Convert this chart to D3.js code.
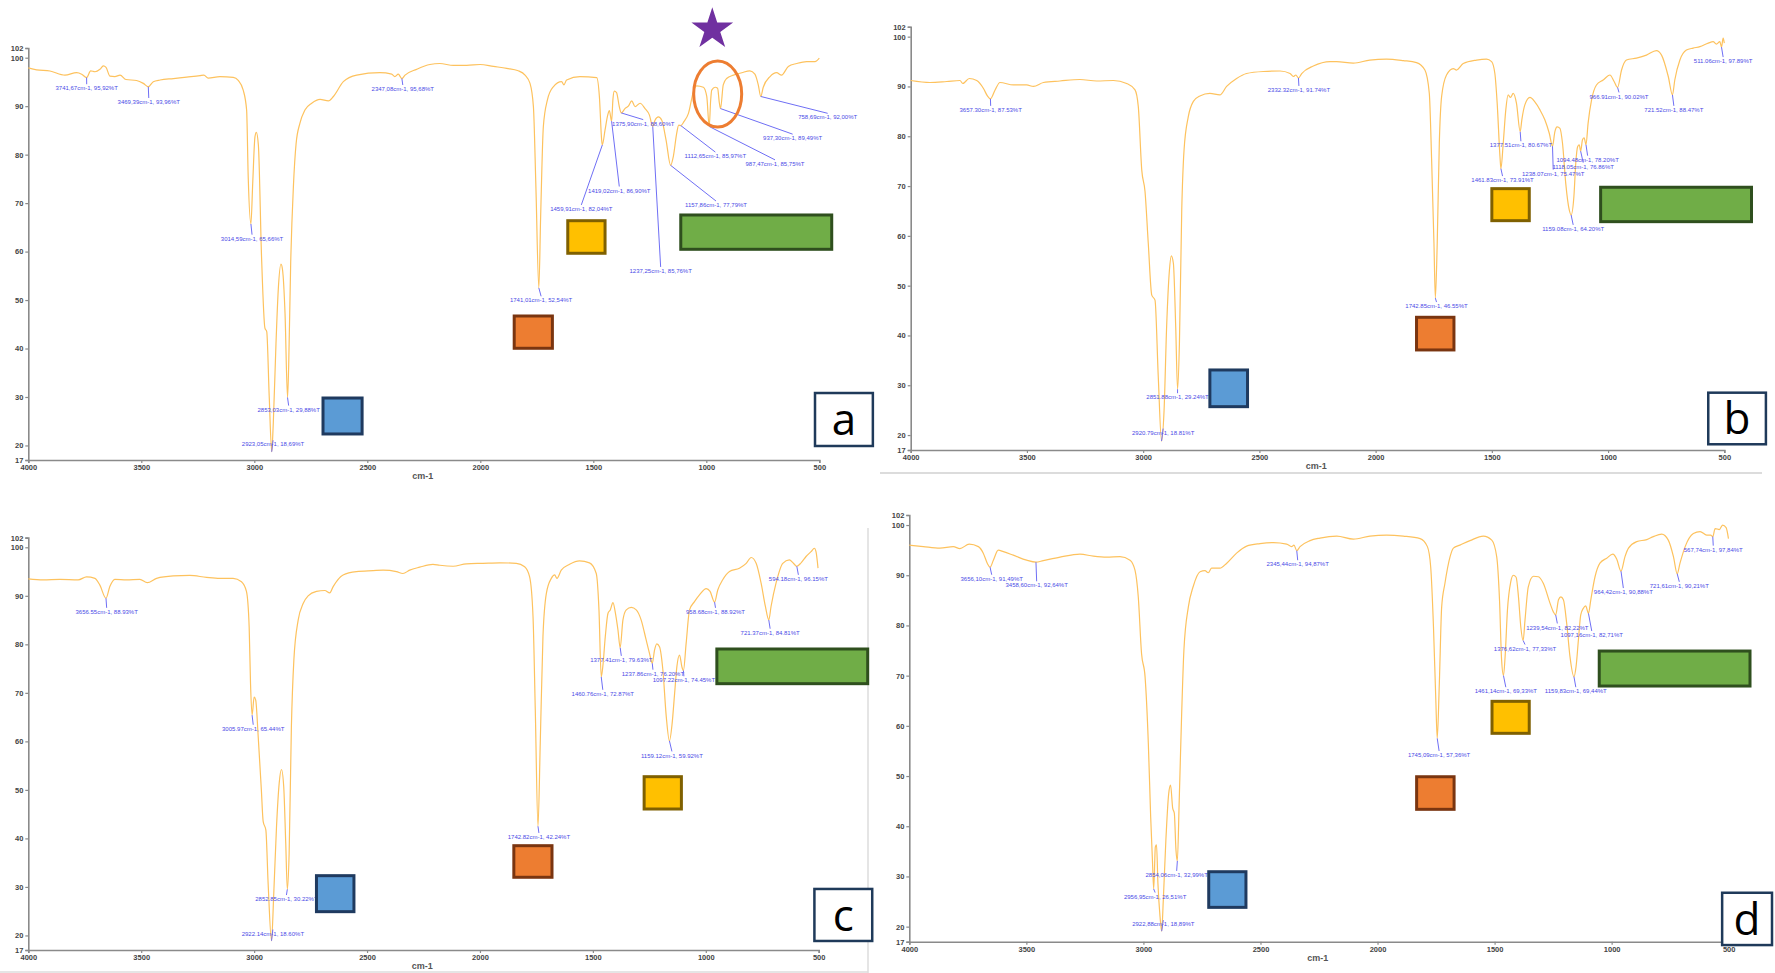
<!DOCTYPE html>
<html><head><meta charset="utf-8">
<script src="https://cdn.jsdelivr.net/npm/d3@7/dist/d3.min.js"></script>
<style>body{margin:0;background:#fff;}svg{display:block;font-family:"Liberation Sans",Arial,sans-serif;}</style>
</head><body><svg id="chart" width="1775" height="973"></svg>
<script>
// ---------- data ----------
const xTicks = [4000,3500,3000,2500,2000,1500,1000,500];
const yTicks = [17,20,30,40,50,60,70,80,90,100,102];
const panelLetters = ["a","b","c","d"];
const axisTitle = "cm-1";

// panel a spectrum
const wnA = [4000,3963,3904,3838,3786,3764,3742,3724,3705,3683,3668,3656,3639,3617,3594,3568,3521,3491,3469,3447,3417,3358,3299,3240,3223,3204,3152,3093,3071,3049,3034,3027,3015,3007,2997,2991,2982,2968,2953,2945,2934,2923,2916,2904,2894,2882,2875,2864,2853,2848,2839,2827,2815,2798,2776,2746,2709,2672,2650,2606,2547,2444,2392,2378,2363,2347,2333,2282,2223,2179,2119,2060,2001,1942,1883,1832,1802,1780,1765,1754,1741,1733,1721,1703,1677,1640,1630,1618,1559,1485,1473,1463,1460,1448,1436,1429,1419,1413,1407,1397,1385,1376,1360,1345,1330,1315,1293,1271,1252,1237,1227,1212,1197,1178,1158,1146,1131,1122,1113,1099,1079,1057,1043,1013,998,987,981,976,961,950,942,937,925,910,880,843,807,785,770,759,748,718,689,667,637,600,556,519,500];
const tA = [97.9,97.5,97.25,96.4,96.9,96.6,95.9,97.3,97.1,97.6,98.3,98.0,96.2,96.1,96.4,95.5,95.3,94.7,94.0,95.05,95.4,95.7,96.0,96.3,96.4,95.8,96.1,95.95,95.3,93.3,89.2,75.5,65.7,74.1,83.7,84.6,82.0,59.0,44.2,43.5,30.1,18.7,24.6,41.1,52.1,57.4,56.2,47.2,29.9,36.2,57.6,73.4,82.3,86.5,89.2,90.6,91.4,91.1,92.0,95.05,96.4,96.9,96.6,96.1,96.6,95.7,96.4,97.6,98.6,98.8,98.4,98.4,98.6,98.2,97.8,97.3,96.4,94.7,89.9,73.4,52.5,67.2,85.8,91.3,94.0,95.05,94.4,95.4,96.1,95.9,91.95,83.0,82.0,85.1,88.2,89.1,86.9,91.5,93.1,92.8,89.9,88.6,89.5,90.0,91.1,89.9,90.6,89.5,88.2,85.8,87.1,87.8,87.1,83.0,77.8,79.6,84.4,86.1,86.0,86.8,88.5,93.0,94.2,93.9,92.0,85.8,91.0,93.3,93.9,93.7,90.6,89.5,94.4,95.7,96.4,96.9,97.3,96.6,94.4,92.0,93.9,96.1,96.9,96.4,98.2,98.8,99.2,99.2,99.9];

// panel b spectrum
const wnB = [4000,3917,3845,3788,3776,3748,3716,3687,3670,3657,3637,3616,3558,3501,3472,3429,3358,3272,3200,3128,3071,3035,3021,3006,2992,2978,2963,2949,2935,2921,2910,2899,2887,2879,2870,2860,2852,2844,2834,2824,2806,2784,2756,2713,2670,2641,2598,2555,2483,2411,2368,2354,2343,2332,2318,2268,2196,2168,2096,2025,1953,1881,1824,1788,1769,1759,1749,1743,1735,1726,1716,1695,1666,1652,1623,1566,1523,1501,1487,1477,1465,1461,1451,1440,1430,1420,1408,1394,1378,1371,1358,1336,1315,1293,1272,1253,1239,1229,1219,1207,1196,1182,1167,1159,1147,1139,1131,1124,1118,1110,1103,1095,1086,1071,1050,1021,992,974,959,942,921,878,835,792,770,741,723,713,691,663,634,605,569,548,534,519,512,505,500];
const tB = [91.2,90.8,91.0,91.2,90.6,91.6,91.2,89.6,88.1,87.5,89.3,90.8,90.3,90.3,90.0,90.8,91.1,91.4,91.1,91.2,90.6,89.3,86.0,73.2,68.9,58.5,48.1,47.1,31.7,18.8,25.0,41.8,53.1,56.0,54.5,41.8,29.2,38.4,65.2,77.3,83.9,87.0,88.1,88.6,88.3,90.0,91.6,92.6,93.0,93.1,92.6,92.0,92.3,91.7,92.6,94.1,95.0,95.0,94.7,95.3,95.5,95.2,94.8,93.3,88.6,75.2,58.5,47.5,58.5,78.6,88.0,92.3,93.6,93.3,94.6,95.3,95.5,95.0,92.6,86.6,75.9,73.5,78.6,85.3,88.3,87.8,88.6,86.6,80.9,83.3,86.3,87.8,86.9,85.3,83.3,80.6,78.0,80.9,81.9,81.6,78.6,70.5,65.2,64.2,67.9,74.6,77.9,78.3,77.0,79.3,79.7,78.3,82.6,87.3,90.3,91.3,92.3,91.0,89.8,93.3,95.3,95.7,96.3,97.2,96.3,92.0,88.3,91.3,95.3,97.3,97.7,98.0,98.7,99.0,98.5,99.0,97.9,99.7,98.7];

// panel c spectrum
const wnC = [4000,3934,3860,3779,3742,3705,3683,3656,3639,3617,3565,3506,3473,3432,3358,3285,3211,3152,3093,3056,3034,3022,3016,3009,3000,2993,2982,2968,2960,2948,2938,2923,2913,2901,2889,2879,2869,2860,2853,2845,2835,2824,2805,2783,2761,2724,2687,2665,2650,2606,2547,2473,2429,2370,2341,2311,2267,2208,2178,2119,2060,1987,1913,1839,1802,1780,1765,1755,1743,1733,1721,1706,1684,1669,1659,1640,1603,1559,1515,1485,1473,1463,1456,1445,1433,1423,1411,1400,1389,1379,1367,1352,1330,1308,1286,1264,1249,1237,1227,1217,1205,1190,1175,1161,1149,1138,1128,1116,1106,1099,1087,1072,1050,1028,998,981,961,947,925,895,851,821,799,777,755,736,721,711,689,659,630,612,597,578,556,534,519,512,503];
const tC = [93.5,93.3,93.4,93.3,93.9,93.6,92.2,89.5,91.9,93.4,93.3,93.4,92.7,93.6,94.1,94.2,93.8,93.6,93.6,92.9,90.9,83.6,72.0,65.4,69.1,68.5,61.0,50.0,43.5,41.7,30.7,18.9,28.7,42.3,51.4,54.2,50.7,39.0,29.5,36.9,63.0,76.8,85.0,88.4,90.0,90.9,91.1,90.6,91.9,94.3,95.0,95.2,95.3,95.0,94.6,95.3,95.9,96.5,96.3,96.1,96.6,96.7,96.8,96.7,96.0,93.9,85.7,66.5,42.5,59.6,81.6,90.5,93.6,94.3,93.6,95.3,96.5,97.2,96.8,94.6,87.1,73.3,75.4,81.6,86.4,87.1,88.6,86.4,83.0,79.3,85.0,87.1,87.6,87.1,85.0,80.9,78.1,76.1,78.8,80.1,79.5,74.7,65.1,60.1,63.7,69.9,75.4,77.8,75.4,74.6,80.2,87.1,88.8,90.2,91.5,90.9,88.7,91.2,93.3,95.0,95.7,96.7,97.9,96.7,92.6,87.8,85.0,87.8,92.6,96.7,97.4,96.7,96.1,96.8,98.1,99.1,99.8,99.1,95.7];

// panel d spectrum
const wnD = [4000,3940,3869,3812,3784,3744,3705,3684,3667,3655,3641,3620,3598,3556,3499,3459,3428,3356,3271,3214,3157,3100,3057,3036,3022,3008,2993,2979,2969,2961,2956,2949,2944,2938,2929,2922,2915,2904,2892,2884,2875,2868,2861,2855,2847,2837,2827,2808,2787,2758,2737,2723,2709,2673,2644,2602,2559,2502,2445,2388,2367,2357,2345,2331,2288,2246,2174,2103,2032,1961,1890,1818,1787,1773,1761,1751,1745,1736,1726,1712,1690,1676,1648,1605,1548,1512,1491,1479,1470,1462,1455,1445,1431,1420,1408,1398,1388,1378,1370,1356,1334,1313,1292,1263,1249,1239,1227,1217,1206,1192,1178,1161,1152,1142,1132,1121,1111,1099,1089,1071,1050,1021,995,978,960,943,928,893,850,822,786,758,736,720,708,686,651,622,594,577,568,558,540,526,511,501];
const tD = [96.0,95.7,95.4,95.7,95.3,96.2,95.7,94.4,92.4,91.6,93.0,95.0,94.7,94.0,93.0,92.6,92.9,93.6,94.2,93.8,93.6,93.7,93.0,91.0,85.7,74.4,69.8,56.5,41.9,32.6,27.5,35.9,36.3,28.6,22.0,19.1,25.3,37.3,46.5,48.2,43.6,42.6,35.3,33.1,45.2,61.8,75.1,83.7,87.8,90.7,90.9,90.5,91.4,91.4,92.4,94.4,95.8,96.3,96.5,96.2,95.7,96.0,94.9,95.7,96.9,97.4,97.8,97.2,97.8,98.0,97.8,97.3,95.7,91.7,79.7,65.1,57.5,68.5,83.7,88.4,93.7,95.4,96.0,96.9,97.8,97.0,93.7,85.1,73.1,70.0,73.8,83.1,88.7,90.0,89.6,85.7,79.7,77.0,81.1,87.7,89.8,89.7,88.4,84.4,82.7,82.1,85.1,85.7,85.1,80.4,73.8,69.8,71.8,77.1,82.1,83.4,83.9,82.4,85.1,89.7,92.4,93.4,94.2,93.2,90.8,93.7,95.4,96.7,97.1,97.7,98.2,97.0,93.7,90.3,92.4,95.7,98.3,98.7,98.0,98.0,97.7,99.3,99.1,100.0,99.5,97.3];

// peak annotations (wavenumber, %T as printed)
const peakWA = [3741.67,3469.39,3014.59,2853.03,2923.05,2347.08,1741.01,1459.91,1419.02,1375.90,1237.25,1157.86,1112.65,987.47,937.30,758.69];
const peakTA = [95.92,93.96,65.66,29.88,18.69,95.68,52.54,82.04,86.90,88.60,85.76,77.79,85.97,85.75,89.49,92.00];
const peakWB = [3657.30,2920.79,2851.88,2332.32,1742.85,1461.83,1377.51,1238.07,1159.08,1094.48,1118.05,966.91,721.52,511.06];
const peakTB = [87.53,18.81,29.24,91.74,46.55,73.91,80.67,75.47,64.20,78.20,76.86,90.02,88.47,97.89];
const peakWC = [3656.55,3005.97,2922.14,2852.85,1742.82,1460.76,1377.41,1237.86,1097.22,1159.12,958.68,721.37,594.18];
const peakTC = [88.93,65.44,18.60,30.22,42.24,72.87,79.63,76.20,74.45,59.92,88.92,84.81,96.15];
const peakWD = [3656.10,3458.60,2956.95,2922.88,2854.06,2345.44,1745.09,1461.14,1376.62,1239.54,1097.16,1159.83,964.42,721.61,567.74];
const peakTD = [91.49,92.64,26.51,18.89,32.99,94.87,57.36,69.33,77.33,82.22,82.71,69.44,90.88,90.21,97.84];

// ---------- layout (label anchors in data units, boxes in data units) ----------
const labelPosA = [[3741.6,93.7],[3467,90.86],[3010,62.66],[2848,27.4],[2917,20.24],[2343,93.54],[1731,49.95],[1553,68.8],[1385,72.6],[1279,86.4],[1202,56.0],[957,69.6],[960,79.7],[696,78.1],[618,83.4],[463,87.7]];
const labelPosB = [[3656,85.3],[2914,20.5],[2852,27.6],[2330,89.3],[1738,45.9],[1454,71.2],[1375,78.2],[1236,72.5],[1150,61.4],[1088,75.3],[1107,73.9],[953,88.0],[717,85.3],[505,95.1]];
const labelPosC = [[3653,86.7],[3004,62.6],[2917,20.4],[2857,27.5],[1739,40.3],[1456,69.8],[1374,76.8],[1234,73.95],[1097,72.6],[1150,57.1],[957,86.7],[715,82.4],[590,93.5]];
const labelPosD = [[3648,89.3],[3456,88.0],[2950,26.0],[2915,20.5],[2858,30.3],[2341,92.2],[1737,54.2],[1452,66.9],[1370,75.4],[1232,79.6],[1085,78.1],[1153,66.9],[950,86.65],[711,87.9],[566,95.1]];

const boxStyle = {
  blue:{fill:"#5B9BD5",stroke:"#1F3A5F"}, orange:{fill:"#ED7D31",stroke:"#7A3510"},
  yellow:{fill:"#FFC000",stroke:"#7F6000"}, green:{fill:"#70AD47",stroke:"#2F4F1E"}
};
const boxesA = [["blue",2696,2523,29.79,22.37],["yellow",1613,1448,66.37,59.65],["green",1113,445,67.55,60.47],["orange",1850,1681,46.71,40.05]];
const boxesB = [["blue",2713,2551,33.07,25.70],["orange",1824,1663,43.65,37.09],["yellow",1500,1339,69.48,63.05],["green",1032,383,69.76,62.85]];
const boxesC = [["blue",2724,2558,32.32,24.90],["orange",1850,1681,38.50,31.99],["yellow",1273,1108,52.72,46.06],["green",951,283,79.04,71.89]];
const boxesD = [["blue",2721,2562,30.94,23.84],["orange",1833,1673,49.86,43.37],["yellow",1511,1352,64.88,58.51],["green",1053,409,74.90,67.93]];
const letterBoxes = [[519,263,30.82,19.89],[569,321,28.51,18.15],[519,263,29.58,18.86],[528,315,26.75,16.33]];

const panels = [
  {wn:wnA,t:tA,pw:peakWA,pt:peakTA,lab:labelPosA,boxes:boxesA,dec:",",x0:28.3,x1:819.3,yb:460,yt:48.0},
  {wn:wnB,t:tB,pw:peakWB,pt:peakTB,lab:labelPosB,boxes:boxesB,dec:".",x0:910.7,x1:1724.3,yb:450,yt:26.7},
  {wn:wnC,t:tC,pw:peakWC,pt:peakTC,lab:labelPosC,boxes:boxesC,dec:".",x0:28.3,x1:818.7,yb:950,yt:537.6},
  {wn:wnD,t:tD,pw:peakWD,pt:peakTD,lab:labelPosD,boxes:boxesD,dec:",",x0:909.3,x1:1728.7,yb:941.7,yt:515}
];

const svg = d3.select("#chart");

// faint panel frame lines
svg.append("line").attr("x1",880).attr("x2",1762).attr("y1",473).attr("y2",473).attr("stroke","#dcdcdc").attr("stroke-width",2);
svg.append("line").attr("x1",868).attr("x2",868).attr("y1",528).attr("y2",973).attr("stroke","#dcdcdc").attr("stroke-width",1.5);
svg.append("line").attr("x1",0).attr("x2",868).attr("y1",972).attr("y2",972).attr("stroke","#dcdcdc").attr("stroke-width",1.5);

panels.forEach((p,i)=>{
  const g = svg.append("g");
  const x = d3.scaleLinear().domain([4000,500]).range([p.x0,p.x1]);
  const y = d3.scaleLinear().domain([17,102]).range([p.yb,p.yt]);
  const fmt = v => d3.format(".2f")(v).replace(".",p.dec);

  // axes
  const yAxis = d3.axisLeft(y).tickValues(yTicks).tickSize(3).tickPadding(2).tickFormat(d3.format("d"));
  const ya = g.append("g").attr("transform",`translate(${p.x0},0)`).call(yAxis);
  const xAxis = d3.axisBottom(x).tickValues(xTicks).tickSize(3).tickPadding(2).tickFormat(d3.format("d"));
  const xa = g.append("g").attr("transform",`translate(0,${p.yb})`).call(xAxis);
  [ya,xa].forEach(a=>{
    a.select(".domain").attr("stroke","#8a8a8a").attr("stroke-width",1.6);
    a.selectAll(".tick line").attr("stroke","#8a8a8a").attr("stroke-width",1.2);
    a.selectAll(".tick text").attr("fill","#444").attr("font-size",7.5).attr("font-weight","bold").attr("font-family","Liberation Sans, Arial, sans-serif");
  });
  g.append("text").attr("x",x(2255)).attr("y",p.yb+19).attr("text-anchor","middle")
    .attr("font-size",9).attr("font-weight","bold").attr("fill","#555").text(axisTitle);

  // spectrum
  const pts = p.wn.map((w,k)=>[w,p.t[k]]);
  g.append("path").datum(pts).attr("fill","none").attr("stroke","#FDC25E").attr("stroke-width",1.2)
    .attr("d",d3.line().x(d=>x(d[0])).y(d=>y(d[1])).curve(d3.curveMonotoneX));

  // peak annotations
  p.pw.forEach((w,k)=>{
    let best=null;
    pts.forEach(d=>{ if(Math.abs(d[0]-w)<=10 && (!best || d[1]<best[1])) best=d; });
    if(!best) best=[w,p.pt[k]];
    const lx = x(p.lab[k][0]), ly = y(p.lab[k][1]);
    g.append("line").attr("x1",x(best[0])).attr("y1",y(best[1])).attr("x2",lx).attr("y2",ly-4)
      .attr("stroke","#6f6ff5").attr("stroke-width",1);
    g.append("text").attr("x",lx).attr("y",ly).attr("dy","0.35em").attr("text-anchor","middle")
      .attr("font-size",6).attr("fill","#4a4ae6").text(`${fmt(w)}cm-1, ${fmt(p.pt[k])}%T`);
  });

  // coloured boxes
  p.boxes.forEach(b=>{
    const s = boxStyle[b[0]];
    g.append("rect").attr("x",x(b[1])).attr("y",y(b[3])).attr("width",x(b[2])-x(b[1])).attr("height",y(b[4])-y(b[3]))
      .attr("fill",s.fill).attr("stroke",s.stroke).attr("stroke-width",3);
  });

  // panel letter box
  const lb = letterBoxes[i];
  g.append("rect").attr("x",x(lb[0])).attr("y",y(lb[2])).attr("width",x(lb[1])-x(lb[0])).attr("height",y(lb[3])-y(lb[2]))
    .attr("fill","#fff").attr("stroke","#1F3A5A").attr("stroke-width",2.5);
  g.append("text").attr("x",(x(lb[0])+x(lb[1]))/2).attr("y",(y(lb[2])+y(lb[3]))/2).attr("dy","0.36em")
    .attr("text-anchor","middle").attr("font-size",44).attr("font-family","Open Sans, sans-serif").attr("fill","#000")
    .text(panelLetters[i]);

  if(i===0){
    // star and ellipse marker
    g.append("path").attr("d",d3.symbol(d3.symbolStar,540)()).attr("transform",`translate(${x(973.5)},${y(105.86)})`).attr("fill","#7030A0");
    g.append("ellipse").attr("cx",x(949.6)).attr("cy",y(92.5)).attr("rx",24).attr("ry",33)
      .attr("fill","none").attr("stroke","#ED7D31").attr("stroke-width",3);
  }
});
</script></body></html>
